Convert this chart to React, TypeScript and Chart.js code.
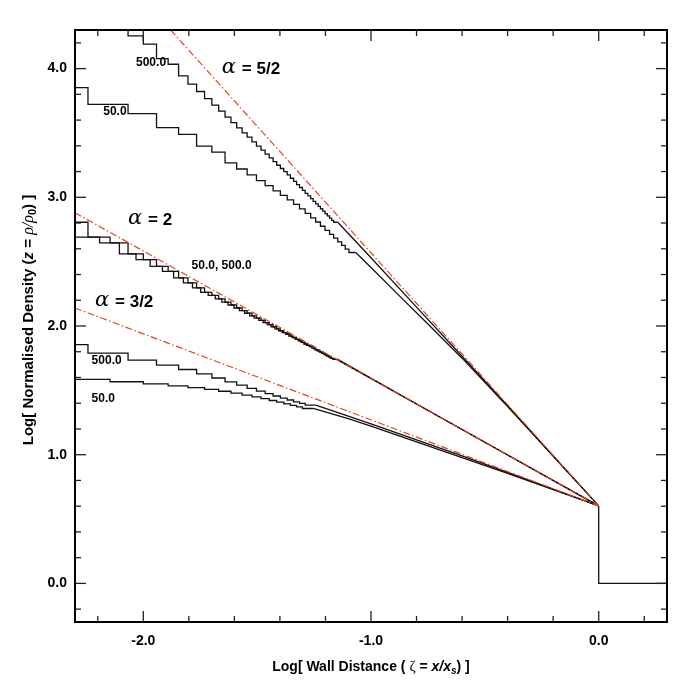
import React, { useEffect, useRef } from 'react';
import { Chart, registerables } from 'chart.js';
Chart.register(...registerables);

// ---------- axes ----------
const X_MIN = -2.3, X_MAX = 0.3, Y_MIN = -0.3, Y_MAX = 4.3;
const X_MAJOR = [-2, -1, 0];
const X_MINOR = [-2.2, -1.8, -1.6, -1.4, -1.2, -0.8, -0.6, -0.4, -0.2, 0.2];
const Y_MAJOR = [0, 1, 2, 3, 4];
const Y_MINOR = [-0.2, 0.2, 0.4, 0.6, 0.8, 1.2, 1.4, 1.6, 1.8, 2.2, 2.4, 2.6, 2.8, 3.2, 3.4, 3.6, 3.8, 4.2];

// ---------- bin edges (log zeta) ----------
// fine bins, k = 3 .. 50
const EDGES = [-2.368, -2.243, -2.146, -2.067, -2.000, -1.942, -1.891, -1.845, -1.804, -1.766, -1.731, -1.699,
  -1.669, -1.641, -1.615, -1.590, -1.566, -1.544, -1.523, -1.503, -1.483, -1.465, -1.447, -1.430, -1.414,
  -1.398, -1.383, -1.368, -1.354, -1.340, -1.327, -1.314, -1.301, -1.289, -1.277, -1.265, -1.254, -1.243,
  -1.232, -1.222, -1.212, -1.202, -1.192, -1.182, -1.173, -1.164, -1.155, -1.146];
// half-shifted fine bins, k = 3.5 .. 49.5
const EDGES_HALF = [-2.301, -2.192, -2.105, -2.032, -1.970, -1.916, -1.867, -1.824, -1.784, -1.748, -1.715,
  -1.684, -1.655, -1.628, -1.602, -1.578, -1.555, -1.533, -1.513, -1.493, -1.474, -1.456, -1.439, -1.422,
  -1.406, -1.390, -1.375, -1.361, -1.347, -1.333, -1.320, -1.307, -1.295, -1.283, -1.271, -1.260, -1.249,
  -1.238, -1.227, -1.217, -1.207, -1.197, -1.187, -1.178, -1.168, -1.159, -1.151];
// coarse bins (even k), 3, 4, 6 .. 60
const EDGES_EVEN = [-2.368, -2.243, -2.067, -1.942, -1.845, -1.766, -1.699, -1.641, -1.590, -1.544, -1.503,
  -1.465, -1.430, -1.398, -1.368, -1.340, -1.314, -1.289, -1.265, -1.243, -1.222, -1.202, -1.182, -1.164,
  -1.146, -1.129, -1.113, -1.097, -1.082, -1.067];
// coarse bins (odd k), 3 .. 39
const EDGES_ODD = [-2.368, -2.146, -2.000, -1.891, -1.804, -1.731, -1.669, -1.615, -1.566, -1.523, -1.483,
  -1.447, -1.414, -1.383, -1.354, -1.327, -1.301, -1.277, -1.254];

// ---------- alpha = 5/2 ----------
const A52_500_LEVELS = [4.36, 4.254, 4.190, 4.078, 4.034, 3.944, 3.880, 3.822, 3.767, 3.716, 3.669, 3.623, 3.581,
  3.540, 3.501, 3.467, 3.431, 3.398, 3.366, 3.336, 3.306, 3.278, 3.249, 3.224, 3.199, 3.175, 3.148, 3.123, 3.099,
  3.076, 3.054, 3.031, 3.011, 2.990, 2.969, 2.949, 2.930, 2.911, 2.892, 2.873, 2.856, 2.838, 2.821, 2.806];
const A52_500_TAIL_X = [-1.146, -1.0, -0.8, -0.6, -0.4, -0.2, 0];
const A52_500_TAIL_Y = [2.806, 2.53, 2.147, 1.765, 1.38, 0.99, 0.602];
const A52_50_LEVELS = [3.948, 3.852, 3.722, 3.650, 3.541, 3.489, 3.398, 3.351, 3.268, 3.22, 3.175, 3.13, 3.09,
  3.05, 3.015, 2.98, 2.945, 2.91, 2.875, 2.84, 2.808, 2.775, 2.743, 2.712, 2.683, 2.654, 2.626, 2.598, 2.571];
const A52_50_TAIL_X = [-1.067, -1.0, -0.873, -0.75, -0.6, -0.4, -0.2, 0];
const A52_50_TAIL_Y = [2.571, 2.455, 2.23, 2.015, 1.75, 1.375, 0.99, 0.602];

// ---------- alpha = 2 ----------
const A2_500_LEVELS = [2.879, 2.806, 2.690, 2.646, 2.560, 2.516, 2.464, 2.425, 2.374, 2.335, 2.296, 2.262, 2.238,
  2.211, 2.186, 2.163, 2.140, 2.119, 2.099, 2.079, 2.061, 2.043, 2.026, 2.010, 1.994, 1.978, 1.963, 1.949, 1.936,
  1.922, 1.909, 1.896, 1.884, 1.872, 1.860, 1.849, 1.839, 1.828, 1.817, 1.807, 1.797, 1.787, 1.777, 1.768, 1.758,
  1.749, 1.741];
const A2_500_TAIL_X = [-1.146, -0.8, -0.4, 0];
const A2_500_TAIL_Y = [1.741, 1.394, 0.998, 0.602];
const A2_50_LEVELS = [2.806, 2.690, 2.646, 2.560, 2.516, 2.464, 2.425, 2.374, 2.335, 2.296, 2.262, 2.238, 2.211,
  2.186, 2.163, 2.140, 2.119, 2.099, 2.079, 2.061, 2.043, 2.026, 2.010, 1.994, 1.978, 1.963, 1.949, 1.936, 1.922,
  1.909, 1.896, 1.884, 1.872, 1.860, 1.849, 1.839, 1.828, 1.817, 1.807, 1.797, 1.787, 1.777, 1.768, 1.758, 1.749,
  1.741];
const A2_50_TAIL_X = [-1.151, -0.8, -0.4, 0];
const A2_50_TAIL_Y = [1.741, 1.394, 0.998, 0.602];

// ---------- alpha = 3/2 ----------
const A32_500_LEVELS = [1.88, 1.855, 1.79, 1.735, 1.696, 1.662, 1.628, 1.596, 1.566, 1.540, 1.516, 1.494, 1.474,
  1.456, 1.44, 1.425, 1.411, 1.398, 1.385];
const A32_500_TAIL_X = [-1.243, -1.2, -1.1, -1.0, -0.8, -0.6, -0.4, -0.2, 0];
const A32_500_TAIL_Y = [1.385, 1.36, 1.30, 1.24, 1.115, 0.99, 0.862, 0.732, 0.602];
const A32_50_LEVELS = [1.608, 1.586, 1.567, 1.551, 1.535, 1.521, 1.507, 1.493, 1.478, 1.463, 1.449, 1.435, 1.421,
  1.408, 1.395, 1.383, 1.371, 1.359];
const A32_50_TAIL_X = [-1.254, -1.1, -1.0, -0.8, -0.6, -0.4, -0.2, 0];
const A32_50_TAIL_Y = [1.359, 1.28, 1.222, 1.10, 0.978, 0.855, 0.729, 0.602];

// ---------- wall jump ----------
const DROP_X = [0, 0, 0.3];
const DROP_Y = [0.602, 0, 0];

// ---------- power-law references ----------
const R52_X = [-1.88, 0], R52_Y = [4.30, 0.602];
const R2_X = [-2.3, 0], R2_Y = [2.88, 0.602];
const R32_X = [-2.3, 0], R32_Y = [2.14, 0.602];

// ---------- annotations ----------
const NUM_LABELS = [
  { t: '500.0', x: -2.032, y: 4.045 },
  { t: '50.0', x: -2.176, y: 3.668 },
  { t: '50.0, 500.0', x: -1.788, y: 2.469 },
  { t: '500.0', x: -2.227, y: 1.730 },
  { t: '50.0', x: -2.227, y: 1.438 },
];
const ALPHA_LABELS = [
  { t: '= 5/2', x: -1.655, y: 3.994 },
  { t: '= 2', x: -2.067, y: 2.820 },
  { t: '= 3/2', x: -2.212, y: 2.181 },
];

const SANS = '"Liberation Sans", Arial, Helvetica, sans-serif';
const SERIF = '"Liberation Serif", "Times New Roman", serif';
const GREEK = '"DejaVu Serif", "Liberation Serif", serif';
const RED = '#e8431f';
const INK = '#111111';

function steps(edges: number[], levels: number[]) {
  const pts = levels.map((y, i) => ({ x: edges[i], y }));
  pts.push({ x: edges[levels.length], y: levels[levels.length - 1] });
  return pts;
}
function zip(xs: number[], ys: number[]) {
  return xs.map((x, i) => ({ x, y: ys[i] }));
}

function stepDs(data: any[]) {
  return { data, borderColor: INK, borderWidth: 1.3, pointRadius: 0, fill: false, stepped: 'after' as const, tension: 0 };
}
function lineDs(data: any[]) {
  return { data, borderColor: INK, borderWidth: 1.3, pointRadius: 0, fill: false, tension: 0 };
}
function redDs(data: any[]) {
  return { data, borderColor: RED, borderWidth: 1.2, borderDash: [7, 2.5, 1.5, 2.5], pointRadius: 0, fill: false, tension: 0 };
}

type Part = { t: string; f: string; dy?: number };
function drawRich(ctx: CanvasRenderingContext2D, parts: Part[], x: number, y: number) {
  let w = 0;
  parts.forEach(p => { ctx.font = p.f; w += ctx.measureText(p.t).width; });
  let cx = x - w / 2;
  ctx.textBaseline = 'middle';
  ctx.textAlign = 'left';
  parts.forEach(p => {
    ctx.font = p.f;
    ctx.fillText(p.t, cx, y + (p.dy || 0));
    cx += ctx.measureText(p.t).width;
  });
}

const decorPlugin = {
  id: 'decor',
  afterDraw(chart: any) {
    const ctx: CanvasRenderingContext2D = chart.ctx;
    const { left, right, top, bottom } = chart.chartArea;
    const xs = chart.scales.x, ys = chart.scales.y;
    ctx.save();
    ctx.strokeStyle = '#222';
    ctx.lineWidth = 1.3;
    const tick = (x1: number, y1: number, x2: number, y2: number) => {
      ctx.beginPath(); ctx.moveTo(x1, y1); ctx.lineTo(x2, y2); ctx.stroke();
    };
    X_MAJOR.forEach(v => { const p = xs.getPixelForValue(v); tick(p, bottom, p, bottom - 11); tick(p, top, p, top + 11); });
    X_MINOR.forEach(v => { const p = xs.getPixelForValue(v); tick(p, bottom, p, bottom - 6); tick(p, top, p, top + 6); });
    Y_MAJOR.forEach(v => { const p = ys.getPixelForValue(v); tick(left, p, left + 11, p); tick(right, p, right - 11, p); });
    Y_MINOR.forEach(v => { const p = ys.getPixelForValue(v); tick(left, p, left + 6, p); tick(right, p, right - 6, p); });
    ctx.strokeStyle = '#000';
    ctx.lineWidth = 2;
    ctx.strokeRect(left, top, right - left, bottom - top);

    ctx.fillStyle = '#000';
    ctx.textBaseline = 'middle';
    ctx.textAlign = 'left';
    ctx.font = `bold 12px ${SANS}`;
    NUM_LABELS.forEach(l => ctx.fillText(l.t, xs.getPixelForValue(l.x), ys.getPixelForValue(l.y)));
    ALPHA_LABELS.forEach(l => {
      const px = xs.getPixelForValue(l.x), py = ys.getPixelForValue(l.y);
      ctx.font = `italic 21px ${GREEK}`;
      ctx.fillText('\u03B1', px, py - 2);
      ctx.font = `bold 17px ${SANS}`;
      ctx.fillText(l.t, px + 20, py);
    });

    const B = `bold 14px ${SANS}`;
    const BI = `italic bold 14px ${SANS}`;
    drawRich(ctx, [
      { t: 'Log[ Wall Distance ( ', f: B },
      { t: '\u03B6', f: `15px ${SERIF}` },
      { t: ' = ', f: B },
      { t: 'x/x', f: BI },
      { t: 's', f: `italic bold 10px ${SANS}`, dy: 4 },
      { t: ') ]', f: B },
    ], (left + right) / 2, 667);

    const B2 = `bold 15px ${SANS}`;
    ctx.save();
    ctx.translate(29, (top + bottom) / 2 - 6);
    ctx.rotate(-Math.PI / 2);
    drawRich(ctx, [
      { t: 'Log[ Normalised Density (', f: B2 },
      { t: 'z', f: `italic bold 15px ${SANS}` },
      { t: ' = ', f: B2 },
      { t: '\u03C1/\u03C1', f: `italic 16px ${SERIF}` },
      { t: '0', f: `bold 11px ${SANS}`, dy: 4 },
      { t: ') ]', f: B2 },
    ], 0, 0);
    ctx.restore();
    ctx.restore();
  },
};

export default function App() {
  const ref = useRef<HTMLCanvasElement>(null);
  useEffect(() => {
    if (!ref.current) return;
    const fmt = (v: any) => {
      const n = Number(v);
      return Math.abs(n - Math.round(n)) < 1e-6 ? n.toFixed(1) : '';
    };
    const tickFont = { family: SANS, size: 14, weight: 'bold' as const };
    const chart = new Chart(ref.current, {
      type: 'line',
      data: {
        datasets: [
          redDs(zip(R52_X, R52_Y)),
          redDs(zip(R2_X, R2_Y)),
          redDs(zip(R32_X, R32_Y)),
          stepDs(steps(EDGES.slice(3), A52_500_LEVELS)),
          lineDs(zip(A52_500_TAIL_X, A52_500_TAIL_Y)),
          stepDs(steps(EDGES_EVEN, A52_50_LEVELS)),
          lineDs(zip(A52_50_TAIL_X, A52_50_TAIL_Y)),
          stepDs(steps(EDGES, A2_500_LEVELS)),
          lineDs(zip(A2_500_TAIL_X, A2_500_TAIL_Y)),
          stepDs(steps(EDGES_HALF, A2_50_LEVELS)),
          lineDs(zip(A2_50_TAIL_X, A2_50_TAIL_Y)),
          stepDs(steps(EDGES_EVEN, A32_500_LEVELS)),
          lineDs(zip(A32_500_TAIL_X, A32_500_TAIL_Y)),
          stepDs(steps(EDGES_ODD, A32_50_LEVELS)),
          lineDs(zip(A32_50_TAIL_X, A32_50_TAIL_Y)),
          lineDs(zip(DROP_X, DROP_Y)),
        ] as any,
      },
      options: {
        animation: false,
        responsive: false,
        maintainAspectRatio: false,
        parsing: false as any,
        normalized: true,
        layout: { padding: { top: 30, right: 25, left: 0, bottom: 0 } },
        plugins: { legend: { display: false }, tooltip: { enabled: false } },
        scales: {
          x: {
            type: 'linear', min: X_MIN, max: X_MAX,
            afterFit: (s: any) => { s.height = 62; },
            grid: { display: false, drawTicks: false },
            border: { display: false },
            ticks: { stepSize: 1, autoSkip: false, maxRotation: 0, padding: 11, color: '#000', font: tickFont, callback: fmt },
          },
          y: {
            type: 'linear', min: Y_MIN, max: Y_MAX,
            afterFit: (s: any) => { s.width = 75; },
            grid: { display: false, drawTicks: false },
            border: { display: false },
            ticks: { stepSize: 1, autoSkip: false, padding: 8, color: '#000', font: tickFont, callback: fmt },
          },
        },
      } as any,
      plugins: [decorPlugin],
    });
    return () => chart.destroy();
  }, []);
  return (
    <div style={{ position: 'fixed', left: 0, top: 0, width: 692, height: 684, background: '#fff' }}>
      <canvas ref={ref} width={692} height={684} style={{ display: 'block', width: 692, height: 684 }} />
    </div>
  );
}
